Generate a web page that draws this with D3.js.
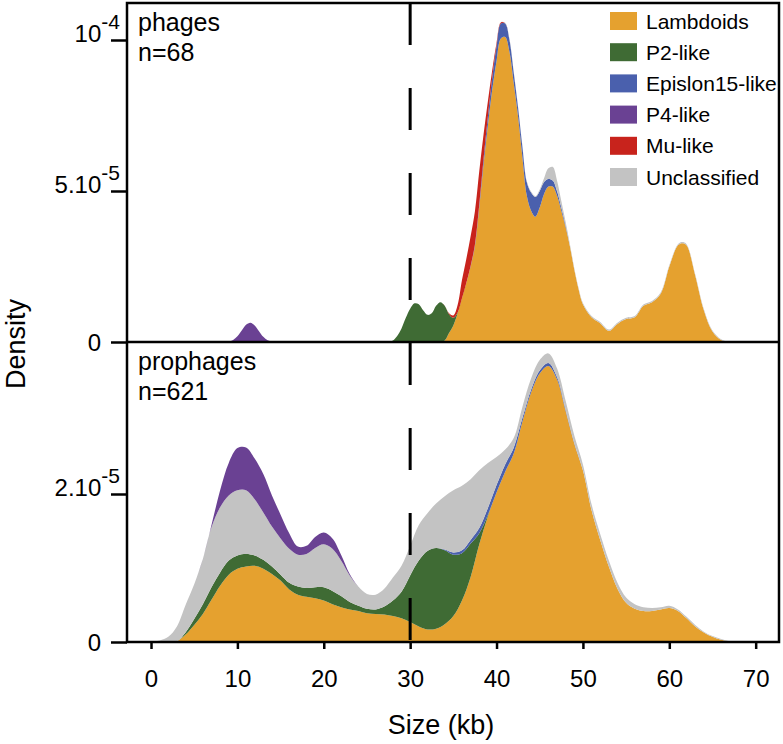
<!DOCTYPE html>
<html><head><meta charset="utf-8">
<script src="https://cdn.jsdelivr.net/npm/d3@7"></script>
<style>
body{margin:0;background:#fff}
text{font-family:"Liberation Sans",Arial,Helvetica,sans-serif;fill:#000}
</style>
</head><body>
<svg id="chart" width="783" height="744"></svg>
<script>
// ---------- DATA (density values in units of 1e-5) ----------
const stackOrder = ["Lambdoids","P2-like","Epislon15-like","Mu-like","Unclassified","P4-like"];
const legendNames = ["Lambdoids","P2-like","Epislon15-like","P4-like","Mu-like","Unclassified"];
const legendColors = ["#E5A12F","#3F6B34","#4A60AD","#6A4193","#C8231C","#C3C3C3"];
const panelNames = ["phages","prophages"];
const panelCounts = ["n=68","n=621"];
const xTicks = [0,10,20,30,40,50,60,70];
const cutoffKb = 30;
const xLabel = "Size (kb)";
const yLabel = "Density";
const phageYTicks = [0,5,10];
const phageYMant = ["0","5.10","10"];
const phageYExp = ["","-5","-4"];
const prophageYTicks = [0,2];
const prophageYMant = ["0","2.10"];
const prophageYExp = ["","-5"];

// phages panel grid (kb)
const phageKb = [0,8.5,9,9.5,10,10.5,11,11.5,12,12.5,13,13.5,14,14.5,
  27,27.5,28,28.5,29,29.5,30,30.5,31,31.5,32,32.5,33,33.5,34,34.5,35,35.5,36,36.5,37,37.5,38,38.5,39,39.5,
  40,40.5,41,41.5,42,42.5,43,43.5,44,44.5,45,45.5,46,46.5,47,47.5,48,48.5,49,49.5,
  50,51,52,53,54,55,56,57,58,59,60,61,61.5,62,63,64,65,66,67,70];
const phageLambdoids = [0,0,0,0,0,0,0,0,0,0,0,0,0,0,
  0,0,0,0,0,0,0,0,0,0,0,0,0,0,0.05,0.3,0.55,0.95,1.45,1.95,2.5,3.18,4.45,5.88,7.17,8.35,
  9.3,10.05,10.1,9.6,8.55,7.45,6.1,4.85,4.35,4.15,4.45,4.9,5.15,5.15,4.85,4.35,3.8,3.16,2.4,1.75,
  1.25,0.82,0.62,0.37,0.6,0.76,0.82,1.2,1.32,1.6,2.5,3.2,3.27,3.2,2.2,1.05,0.35,0.07,0,0];
const phageP2 = [0,0,0,0,0,0,0,0,0,0,0,0,0,0,
  0,0,0.05,0.2,0.45,0.8,1.1,1.28,1.25,1.05,0.9,0.95,1.2,1.32,1.15,0.62,0.25,0.03,0,0,0,0,0,0,0,0,
  0,0,0,0,0,0,0,0,0,0,0,0,0,0,0,0,0,0,0,0,
  0,0,0,0,0,0,0,0,0,0,0,0,0,0,0,0,0,0,0,0];
const phageEps = [0,0,0,0,0,0,0,0,0,0,0,0,0,0,
  0,0,0,0,0,0,0,0,0,0,0,0,0,0,0,0,0,0,0,0,0.02,0.05,0.1,0.2,0.3,0.4,
  0.5,0.5,0.45,0.4,0.35,0.3,0.35,0.45,0.6,0.65,0.55,0.4,0.25,0.2,0.15,0.1,0.05,0,0,0,
  0,0,0,0,0,0,0,0,0,0,0,0,0,0,0,0,0,0,0,0];
const phageMu = [0,0,0,0,0,0,0,0,0,0,0,0,0,0,
  0,0,0,0,0,0,0,0,0,0,0,0,0,0,0,0.03,0.08,0.25,0.6,0.8,0.98,1.1,1.1,0.8,0.5,0.25,
  0.1,0.03,0,0,0,0,0,0,0,0,0,0,0,0,0,0,0,0,0,0,
  0,0,0,0,0,0,0,0,0,0,0,0,0,0,0,0,0,0,0,0];
const phageUncl = [0,0,0,0,0,0,0,0,0,0,0,0,0,0,
  0,0,0,0,0,0,0,0,0,0,0,0,0,0,0,0,0,0,0,0,0,0,0,0,0,0,
  0,0.01,0.02,0.03,0.03,0.03,0.03,0.03,0.03,0.03,0.05,0.12,0.35,0.45,0.35,0.22,0.12,0.07,0.05,0.04,
  0.04,0.04,0.04,0.04,0.04,0.04,0.04,0.04,0.04,0.04,0.04,0.04,0.04,0.04,0.04,0.04,0.03,0.02,0,0];
const phageP4 = [0,0,0.02,0.07,0.19,0.38,0.57,0.64,0.55,0.36,0.17,0.06,0.02,0,
  0,0,0,0,0,0,0,0,0,0,0,0,0,0,0,0,0,0,0,0,0,0,0,0,0,0,
  0,0,0,0,0,0,0,0,0,0,0,0,0,0,0,0,0,0,0,0,
  0,0,0,0,0,0,0,0,0,0,0,0,0,0,0,0,0,0,0,0];

// prophages panel grid (kb, 0..70)
const prophageKb = [0,1,2,3,4,5,6,7,8,9,10,11,12,13,14,15,16,17,18,19,20,21,22,23,24,25,26,27,28,29,
  30,31,32,33,34,35,36,37,38,39,40,41,42,43,44,45,46,47,48,49,50,51,52,53,54,55,56,57,58,59,
  60,61,62,63,64,65,66,67,68,69,70];
const prophageLambdoids = [0,0,0,0.01,0.1,0.23,0.38,0.57,0.76,0.91,0.99,1.02,1.03,0.99,0.92,0.83,0.71,0.64,0.61,0.59,
  0.56,0.51,0.47,0.44,0.42,0.39,0.38,0.37,0.35,0.32,
  0.27,0.21,0.17,0.18,0.24,0.35,0.56,0.88,1.32,1.7,2.02,2.3,2.55,2.98,3.37,3.63,3.73,3.55,3.12,2.68,
  2.32,1.78,1.38,1.02,0.72,0.53,0.45,0.42,0.42,0.44,0.46,0.42,0.32,0.21,0.13,0.07,0.03,0.01,0,0,0];
const prophageP2 = [0,0,0,0,0.03,0.08,0.13,0.17,0.18,0.19,0.18,0.17,0.14,0.12,0.1,0.08,0.09,0.11,0.12,0.15,
  0.18,0.18,0.15,0.1,0.07,0.06,0.06,0.11,0.21,0.36,
  0.63,0.89,1.06,1.09,1.0,0.83,0.64,0.45,0.15,0.02,0,0,0,0,0,0,0,0,0,0,
  0,0,0,0,0,0,0,0,0,0,0,0,0,0,0,0,0,0,0,0,0];
const prophageEps = [0,0,0,0,0,0,0,0,0,0,0,0,0,0,0,0,0,0,0,0,
  0,0,0,0,0,0,0,0,0,0,
  0,0,0,0,0.01,0.03,0.04,0.05,0.07,0.09,0.1,0.1,0.08,0.05,0.04,0.04,0.04,0.03,0.02,0.01,
  0,0,0,0,0,0,0,0,0,0,0,0,0,0,0,0,0,0,0,0,0];
const prophageUncl = [0,0.02,0.07,0.2,0.37,0.47,0.61,0.81,0.88,0.88,0.88,0.86,0.76,0.64,0.54,0.49,0.46,0.43,0.46,0.53,
  0.58,0.57,0.48,0.36,0.26,0.2,0.2,0.24,0.31,0.35,
  0.4,0.48,0.51,0.6,0.72,0.84,0.87,0.82,0.78,0.61,0.38,0.2,0.13,0.15,0.15,0.14,0.13,0.12,0.12,0.1,
  0.08,0.08,0.08,0.08,0.08,0.07,0.06,0.05,0.04,0.03,0.03,0.02,0.02,0.02,0.01,0.01,0.01,0,0,0,0];
const prophageP4 = [0,0,0,0,0,0,0,0.03,0.23,0.44,0.57,0.58,0.55,0.52,0.42,0.32,0.21,0.11,0.11,0.15,
  0.16,0.14,0.08,0.02,0,0,0,0,0,0,
  0,0,0,0,0,0,0,0,0,0,0,0,0,0,0,0,0,0,0,0,
  0,0,0,0,0,0,0,0,0,0,0,0,0,0,0,0,0,0,0,0,0];

// ---------- BUILD ----------
const colorOf = {};
legendNames.forEach((n,i)=>colorOf[n]=legendColors[i]);

function rows(kb, series){
  return kb.map((k,i)=>{
    const r = {kb:k};
    for (const key in series) r[key] = series[key][i];
    return r;
  });
}
const phageRows = rows(phageKb, {"Lambdoids":phageLambdoids,"P2-like":phageP2,"Epislon15-like":phageEps,
  "Mu-like":phageMu,"Unclassified":phageUncl,"P4-like":phageP4});
const prophageRows = rows(prophageKb, {"Lambdoids":prophageLambdoids,"P2-like":prophageP2,"Epislon15-like":prophageEps,
  "Unclassified":prophageUncl,"P4-like":prophageP4});

const svg = d3.select("#chart");
const L = 127, R = 779, T = 3, M = 342, B = 642;

const x = d3.scaleLinear().domain([-2.78, 72.7]).range([L, R]);
const yTop = d3.scaleLinear().domain([0, 11.225]).range([M, T]);
const yBot = d3.scaleLinear().domain([0, 4.054]).range([B, M]);

const stack = d3.stack().keys(stackOrder).value((d,k)=>d[k] || 0);

function drawPanel(data, y, clipId, y0px, y1px){
  svg.append("clipPath").attr("id", clipId).append("rect")
    .attr("x", L).attr("y", y0px).attr("width", R-L).attr("height", y1px-y0px);
  const layers = stack(data);
  const area = d3.area()
    .x(d=>x(d.data.kb)).y0(d=>y(d[0])).y1(d=>y(d[1]))
    .curve(d3.curveCatmullRom.alpha(0.5));
  svg.append("g").attr("clip-path", `url(#${clipId})`).selectAll("path").data(layers).join("path")
    .attr("d", area).attr("fill", d=>colorOf[d.key]).attr("stroke","none");
}
drawPanel(phageRows, yTop, "clipTop", T, M);
drawPanel(prophageRows, yBot, "clipBot", M, B);

// dashed cutoff line
svg.append("line")
  .attr("x1", x(cutoffKb)).attr("x2", x(cutoffKb))
  .attr("y1", T).attr("y2", B)
  .attr("stroke","#000").attr("stroke-width",3)
  .attr("stroke-dasharray","42,43");

// frame
const fw = 2.5;
svg.append("rect").attr("x",L).attr("y",T).attr("width",R-L).attr("height",B-T)
  .attr("fill","none").attr("stroke","#000").attr("stroke-width",fw);
svg.append("line").attr("x1",L).attr("x2",R).attr("y1",M).attr("y2",M)
  .attr("stroke","#000").attr("stroke-width",fw);

// x axis
const xAxis = svg.append("g").attr("transform",`translate(0,${B})`)
  .call(d3.axisBottom(x).tickValues(xTicks).tickSize(7).tickPadding(21).tickFormat(d3.format("d")));
xAxis.select(".domain").remove();
xAxis.selectAll(".tick line").attr("stroke","#000").attr("stroke-width",fw);
xAxis.selectAll(".tick text").style("font-size","24px").attr("fill","#000")
  .style("font-family",'"Liberation Sans",Arial,Helvetica,sans-serif');

// y axes
function yAxis(y, ticks, mant, exps){
  const g = svg.append("g").attr("transform",`translate(${L},0)`)
    .call(d3.axisLeft(y).tickValues(ticks).tickSize(16).tickFormat(""));
  g.select(".domain").remove();
  g.selectAll(".tick line").attr("stroke","#000").attr("stroke-width",fw);
  ticks.forEach((t,i)=>{
    const hasExp = exps[i] !== "";
    const tx = svg.append("text").attr("text-anchor","end")
      .attr("x", hasExp ? 120 : 101)
      .attr("y", y(t) + (hasExp ? 2 : 8.5))
      .style("font-size","24px");
    tx.append("tspan").text(mant[i]);
    if (hasExp) tx.append("tspan").attr("dy",-13).style("font-size","21px").text(exps[i]);
  });
}
yAxis(yTop, phageYTicks, phageYMant, phageYExp);
yAxis(yBot, prophageYTicks, prophageYMant, prophageYExp);

// axis titles
svg.append("text").attr("x",441).attr("y",734).attr("text-anchor","middle")
  .style("font-size","27px").text(xLabel);
svg.append("text").attr("transform","translate(25,344) rotate(-90)").attr("text-anchor","middle")
  .style("font-size","27px").text(yLabel);

// panel labels
[[T, 0],[M, 1]].forEach(([top,i])=>{
  svg.append("text").attr("x",138).attr("y",top+28).style("font-size","25px").text(panelNames[i]);
  svg.append("text").attr("x",138).attr("y",top+58).style("font-size","25px").text(panelCounts[i]);
});

// legend
const lg = svg.append("g");
legendNames.forEach((n,i)=>{
  const cy = 21 + i*31.2;
  lg.append("rect").attr("x",610).attr("y",cy-9).attr("width",27).attr("height",18).attr("fill",legendColors[i]);
  lg.append("text").attr("x",646).attr("y",cy+7.5).style("font-size","21px").text(n);
});
</script>
</body></html>
